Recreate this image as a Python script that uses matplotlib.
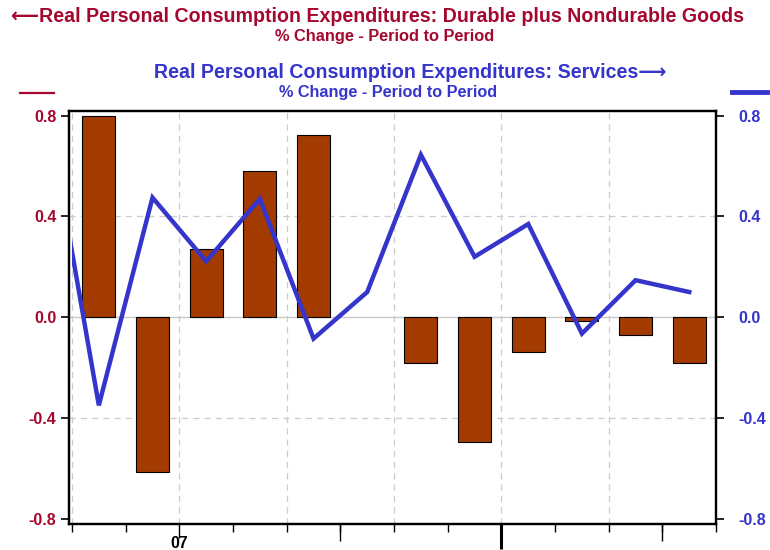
import numpy as np
import matplotlib.pyplot as plt
from matplotlib.patches import Rectangle

plt.rcParams['font.family'] = ['Liberation Sans', 'DejaVu Sans']

# monthly data, Nov 2006 - Oct 2007
months = ['Nov', 'Dec', 'Jan', 'Feb', 'Mar', 'Apr', 'May', 'Jun', 'Jul', 'Aug', 'Sep', 'Oct']
goods = [0.80, -0.615, 0.27, 0.58, 0.725, 0.0, -0.183, -0.497, -0.139, -0.017, -0.07, -0.18]
# services starts one month earlier (Oct 2006), clipped at the first month boundary
services = [0.87, -0.35, 0.475, 0.222, 0.47, -0.085, 0.10, 0.645, 0.24, 0.37, -0.065, 0.147, 0.10]
yticks = [-0.8, -0.4, 0.0, 0.4, 0.8]

red = '#A5082E'
blue = '#3535CC'
bar_col = '#A33A00'

x = np.arange(len(months))
xs = np.arange(len(services)) - 1

fig = plt.figure(figsize=(7.7, 5.5), dpi=100)
ax = fig.add_axes([0.0896, 0.0478, 0.8404, 0.7509])

bars = ax.bar(x, goods, width=0.615, color=bar_col, edgecolor='black', linewidth=0.8, zorder=3)
for b, v in zip(bars, goods):
    if v == 0:
        b.set_visible(False)

ax.set_xlim(-0.556, 11.5)
ax.set_ylim(-0.82, 0.82)

# grid
for v in [-0.4, 0.4]:
    ax.axhline(v, color='#cccccc', linestyle=(0, (5, 4)), linewidth=0.9, zorder=1)
ax.axhline(0, color='#c8c8c8', linewidth=1.0, zorder=1)
for b in np.arange(-0.5, 11.6, 2):
    ax.axvline(b, color='#cccccc', linestyle=(0, (5, 4)), linewidth=0.9, zorder=1)

ax2 = ax.twinx()
ax2.set_ylim(-0.82, 0.82)
ax2.set_xlim(-0.556, 11.5)
line, = ax2.plot(xs, services, color=blue, linewidth=3.2, zorder=4, solid_joinstyle='miter')
line.set_clip_path(Rectangle((-0.5, -0.82), 12.0, 1.64, transform=ax2.transData))

for a in (ax, ax2):
    for s in a.spines.values():
        s.set_linewidth(1.6)
        s.set_color('black')

ax.set_yticks(yticks)
ax.set_yticklabels(['%.1f' % v for v in yticks], color=red, fontweight='bold', fontsize=11.5)
ax.tick_params(axis='y', direction='out', length=6, width=1.2, pad=3)
ax2.set_yticks(yticks)
ax2.set_yticklabels(['%.1f' % v for v in yticks], color=blue, fontweight='bold', fontsize=11.5)
ax2.tick_params(axis='y', direction='out', length=6, width=1.2, pad=10)

# x axis: month boundaries, year label at start of 2007
ax.set_xticks([1.5])
ax.set_xticklabels(['07'], fontweight='bold', fontsize=11.5)
ax.set_xticks(np.arange(-0.5, 11.6, 1), minor=True)
ax.tick_params(axis='x', which='major', direction='out', length=10, width=1.0, pad=-1)
ax.tick_params(axis='x', which='minor', direction='out', length=6, width=1.0)

sec_q = ax.secondary_xaxis('bottom')
sec_q.set_xticks([4.5, 10.5])
sec_q.set_xticklabels(['', ''])
sec_q.tick_params(direction='out', length=12, width=1.0)
sec_q.spines['bottom'].set_visible(False)

sec_h = ax.secondary_xaxis('bottom')
sec_h.set_xticks([7.5])
sec_h.set_xticklabels([''])
sec_h.tick_params(direction='out', length=18, width=2.2)
sec_h.spines['bottom'].set_visible(False)


def fit_text(xc, yc, s, color, target_w, fs):
    t = fig.text(xc, yc, s, ha='center', va='center', color=color, fontsize=fs, fontweight='bold')
    r = fig.canvas.get_renderer()
    w = t.get_window_extent(renderer=r).width
    t.set_fontsize(fs * target_w / w)
    return t


# titles
fit_text(377.5 / 770, 1 - 16 / 550, '\u27F5Real Personal Consumption Expenditures: Durable plus Nondurable Goods',
         red, 735, 14)
fit_text(385 / 770, 1 - 36 / 550, '% Change - Period to Period', red, 220, 11)
fit_text(410 / 770, 1 - 73 / 550, 'Real Personal Consumption Expenditures: Services\u27F6', blue, 514, 14)
fit_text(388 / 770, 1 - 92 / 550, '% Change - Period to Period', blue, 218, 11)

# legend swatches
fig.add_artist(plt.Line2D([20 / 770, 54 / 770], [1 - 92.7 / 550] * 2, color=red, linewidth=1.6))
fig.add_artist(plt.Line2D([732 / 770, 767 / 770], [1 - 92 / 550] * 2, color=blue, linewidth=3.5))

fig.savefig('out.png', dpi=100)
